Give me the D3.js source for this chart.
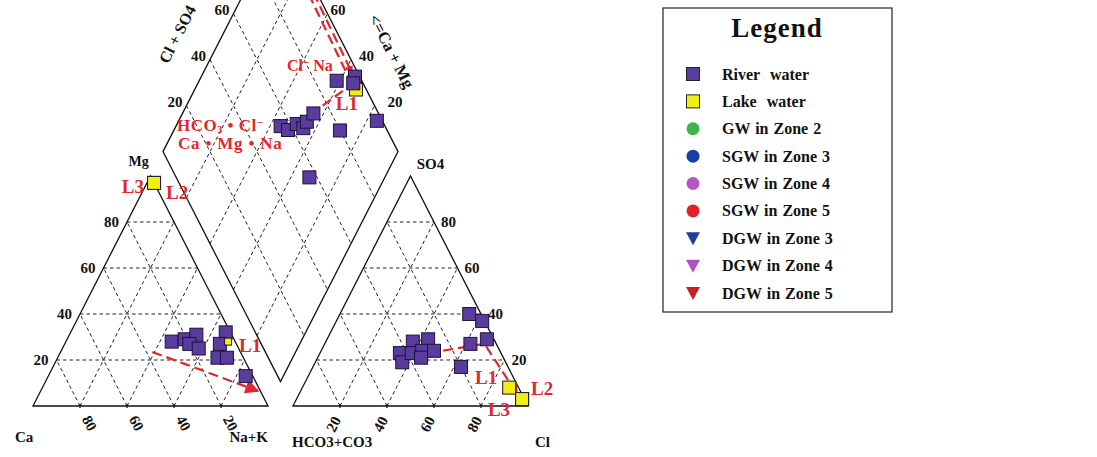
<!DOCTYPE html>
<html>
<head>
<meta charset="utf-8">
<script src="https://cdn.jsdelivr.net/npm/d3@7"></script>
<style>
  body { margin: 0; background: #fff; }
  svg { display: block; font-family: "Liberation Serif", "Times New Roman", serif; font-weight: bold; }
</style>
</head>
<body>
<svg id="chart" width="1097" height="457"></svg>
<script>
// ---------- data ----------
const ticks = [20, 40, 60, 80];
const diamondTicks = [20, 40, 60];

// River water, cation triangle: [Mg %, Na+K %]
const riverCation = [
  [28, 45], [29, 50], [31, 54], [27, 53], [25, 58],
  [32, 66], [27, 66], [21, 68], [21, 72], [13, 84]
];
// River water, anion triangle: [SO4 %, Cl %]
const riverAnion = [
  [23, 34], [19, 37], [28, 37], [23, 39], [29, 43], [24, 43], [24, 48],
  [21, 44], [40, 55], [37, 62], [29, 68], [27, 62], [17, 63]
];
// River water, diamond: [Na+K %, Cl+SO4 %]
const riverDiamond = [
  [44.5, 55.6], [48.5, 57.9], [50.9, 62.9], [54.6, 64.8], [54.7, 67.7],
  [55.7, 72.3], [58.5, 89.3], [65.4, 98.0], [66.1, 95.8], [70.7, 79.9],
  [84.3, 97.7], [67.9, 56.7]
];

// Lake water samples
const lakeNames = ["L1", "L2", "L3"];
const lakeCation = [[28, 69], [97, 3], [97, 3]];        // [Mg, Na+K]
const lakeAnion = [[8, 88], [3, 96], [3, 96]];          // [SO4, Cl]
const lakeDiamond = [[68.6, 95.6], [1, 99.5], [5, 97]]; // [Na+K, Cl+SO4]

// Evolution paths
const cationTrend = [[23.5, 39], [6.5, 92.5]];              // [Mg, Na+K]
const anionTrend = [[21, 34.5], [27, 68], [5, 93]];         // [SO4, Cl]
const diamondTrend = [[48.2, 56.7], [64.4, 92.1]];          // [Na+K, Cl+SO4]
const diamondMixing = [
  [[1, 99.5], [63.5, 97.5]],
  [[5, 97], [66.5, 95]]
];

// Legend entries
const legendLabels = [
  "River  water", "Lake  water", "GW in Zone 2", "SGW in Zone 3", "SGW in Zone 4",
  "SGW in Zone 5", "DGW in Zone 3", "DGW in Zone 4", "DGW in Zone 5"
];
const legendShapes = ["square", "square", "circle", "circle", "circle", "circle", "tri", "tri", "tri"];

// ---------- styles ----------
const RIVER = "#5a3c9e", LAKE = "#f2ee12", RED = "#e3262d";
const legendColors = ["#5a3c9e", "#f2ee12", "#3db54a", "#1743a0", "#b455c4", "#e3202a", "#1c3f99", "#b04fc7", "#cc1c24"];

// ---------- geometry ----------
const GAP = 10.6; // gap between triangles, % of side
const X = d3.scaleLinear().domain([0, 210.6]).range([33, 528]);
const Y = d3.scaleLinear().domain([0, 100]).range([406, 176]);

const cat = (mg, nak) => [X(nak + mg / 2), Y(mg)];
const an = (so4, cl) => [X(100 + GAP + cl + so4 / 2), Y(so4)];
const dia = (nak, a) => { const u = 100 - nak; return [X(100 + GAP / 2 + (a - u) / 2), Y(GAP + u + a)]; };

const svg = d3.select("#chart");
const line = d3.line();

const defs = svg.append("defs");
function arrow(id, w, h) {
  defs.append("marker").attr("id", id)
    .attr("viewBox", "0 0 10 10").attr("refX", 9).attr("refY", 5)
    .attr("markerUnits", "userSpaceOnUse").attr("markerWidth", w).attr("markerHeight", h)
    .attr("orient", "auto")
    .append("path").attr("d", "M0,0L10,5L0,10Z").attr("fill", RED);
}
arrow("arrowBig", 18, 14);
arrow("arrowMid", 14, 12);
arrow("arrowSmall", 9, 8);

const gridG = svg.append("g").attr("fill", "none").attr("stroke", "#222")
  .attr("stroke-width", 1).attr("stroke-dasharray", "3.5,3");

// dashed grids of the two triangles and the diamond
ticks.forEach(t => {
  gridG.append("path").attr("d", line([cat(t, 0), cat(t, 100 - t)]));
  gridG.append("path").attr("d", line([cat(0, t), cat(100 - t, t)]));
  gridG.append("path").attr("d", line([cat(0, 100 - t), cat(100 - t, 0)]));
  gridG.append("path").attr("d", line([an(t, 0), an(t, 100 - t)]));
  gridG.append("path").attr("d", line([an(0, t), an(100 - t, t)]));
  gridG.append("path").attr("d", line([an(0, 100 - t), an(100 - t, 0)]));
  gridG.append("path").attr("d", line([dia(t, 0), dia(t, 100)]));
  gridG.append("path").attr("d", line([dia(0, t), dia(100, t)]));
});

// outlines
const outG = svg.append("g").attr("fill", "none").attr("stroke", "#111").attr("stroke-width", 1.3);
outG.append("path").attr("d", line([cat(0, 0), cat(0, 100), cat(100, 0)]) + "Z");
outG.append("path").attr("d", line([an(0, 0), an(0, 100), an(100, 0)]) + "Z");
outG.append("path").attr("d", line([dia(100, 0), dia(0, 0), dia(0, 100), dia(100, 100)]) + "Z");

// base ticks
const tickG = svg.append("g").attr("stroke", "#111").attr("stroke-width", 1.2);
ticks.forEach(t => {
  [cat(0, t), an(0, t)].forEach(p => {
    tickG.append("line").attr("x1", p[0]).attr("x2", p[0]).attr("y1", p[1] - 2).attr("y2", p[1] + 2);
  });
});

// ---------- axis labels ----------
const txt = svg.append("g").attr("fill", "#111");
function label(x, y, s, size, anchor, rot, color) {
  const t = txt.append("text")
    .attr("transform", `translate(${x},${y})` + (rot ? ` rotate(${rot})` : ""))
    .attr("font-size", size).attr("text-anchor", anchor || "start").text(s);
  if (color) t.attr("fill", color);
  return t;
}

ticks.forEach(t => {
  const p = cat(t, 0);
  label(p[0] - 8, p[1] + 5, t, 15, "end");
  const q = cat(0, t);
  label(q[0] + 8, q[1] + 18, 100 - t, 15, "middle", 62).attr("dominant-baseline", "middle");
  const r = an(t, 100 - t);
  label(r[0] + 7, r[1] + 5, t, 15, "start");
  const s = an(0, t);
  label(s[0] - 5, s[1] + 19, t, 15, "middle", -62).attr("dominant-baseline", "middle");
});
diamondTicks.forEach(t => {
  const dl = dia(0, t);
  label(dl[0] - 4, dl[1] + 1, t, 15, "end");
  const dr = dia(100 - t, 100);
  label(dr[0] + 3 + (60 - t) * 0.25, dr[1] + 1, t, 15, "start");
});

label(cat(100, 0)[0] - 12, cat(100, 0)[1] - 10, "Mg", 14, "middle");
label(15, 442, "Ca", 15, "start");
label(268, 442, "Na+K", 15, "end");
label(an(100, 0)[0] + 20, an(100, 0)[1] - 7, "SO4", 15, "middle");
label(292, 447, "HCO3+CO3", 15, "start");
label(550, 447, "Cl", 15, "end");
label(179, 35, "Cl + SO4", 16, "middle", -63).attr("dominant-baseline", "middle");
label(390, 52, "<=Ca + Mg", 16.5, "middle", 63).attr("dominant-baseline", "middle");

// ---------- evolution paths ----------
const redG = svg.append("g").attr("fill", "none").attr("stroke", RED)
  .attr("stroke-width", 2.2).attr("stroke-dasharray", "10,5");
redG.append("path").attr("d", line(cationTrend.map(d => cat(d[0], d[1])))).attr("marker-end", "url(#arrowBig)");
redG.append("path").attr("d", line(anionTrend.map(d => an(d[0], d[1])))).attr("marker-end", "url(#arrowMid)");
redG.append("path").attr("d", line(diamondTrend.map(d => dia(d[0], d[1]))));
diamondMixing.forEach(seg => {
  redG.append("path").attr("d", line(seg.map(d => dia(d[0], d[1])))).attr("marker-end", "url(#arrowSmall)");
});

// ---------- samples ----------
function squares(points, fill, size) {
  svg.append("g").selectAll("rect").data(points).join("rect")
    .attr("x", d => d[0] - size / 2).attr("y", d => d[1] - size / 2)
    .attr("width", size).attr("height", size)
    .attr("fill", fill).attr("stroke", "#1e1238").attr("stroke-width", 1);
}
// lake water drawn below river water
squares(lakeDiamond.map(d => dia(d[0], d[1])), LAKE, 13);
squares(lakeAnion.map(d => an(d[0], d[1])), LAKE, 13);
squares(lakeCation.slice(1).map(d => cat(d[0], d[1])), LAKE, 13);
squares(riverCation.map(d => cat(d[0], d[1])), RIVER, 13);
squares(riverAnion.map(d => an(d[0], d[1])), RIVER, 13);
squares(riverDiamond.map(d => dia(d[0], d[1])), RIVER, 13);
squares(lakeCation.slice(0, 1).map(d => cat(d[0], d[1])), LAKE, 7);

// ---------- annotations ----------
const aPos = cat(lakeCation[1][0], lakeCation[1][1]);
label(aPos[0] - 10, aPos[1] + 10, lakeNames[2], 19, "end", 0, RED);
label(aPos[0] + 12, aPos[1] + 16, lakeNames[1], 19, "start", 0, RED);
const c1 = cat(lakeCation[0][0], lakeCation[0][1]);
label(c1[0] + 11, c1[1] + 10, lakeNames[0], 19, "start", 0, RED);
const a1 = an(lakeAnion[0][0], lakeAnion[0][1]);
label(a1[0] - 12, a1[1] - 4, lakeNames[0], 19, "end", 0, RED);
const a2 = an(lakeAnion[1][0], lakeAnion[1][1]);
label(a2[0] + 9, a2[1] - 4, lakeNames[1], 19, "start", 0, RED);
label(a2[0] - 12, a2[1] + 17, lakeNames[2], 19, "end", 0, RED);
const d1 = dia(lakeDiamond[0][0], lakeDiamond[0][1]);
label(d1[0] - 9, d1[1] + 20, lakeNames[0], 19, "middle", 0, RED);

const t1 = label(287, 71, "", 16, "start", 0, RED);
t1.append("tspan").text("Cl");
t1.append("tspan").attr("dy", -5).attr("font-size", 11).text("−");
t1.append("tspan").attr("dy", 5).text(" Na");
const t2 = label(177, 131, "", 17, "start", 0, RED).attr("letter-spacing", 0.5);
t2.append("tspan").text("HCO");
t2.append("tspan").attr("dy", 1.5).attr("font-size", 10).text("3");
t2.append("tspan").attr("dy", -1.5).text(" • Cl");
t2.append("tspan").attr("dy", -5).attr("font-size", 11).text("−");
label(178, 149, "Ca • Mg • Na", 17, "start", 0, RED).attr("letter-spacing", 0.8);

// ---------- legend ----------
const lg = svg.append("g");
lg.append("rect").attr("x", 663).attr("y", 8).attr("width", 229).attr("height", 304)
  .attr("fill", "#fff").attr("stroke", "#333").attr("stroke-width", 1.3);
lg.append("text").attr("x", 777).attr("y", 37).attr("text-anchor", "middle")
  .attr("font-size", 27).attr("letter-spacing", 1).attr("fill", "#111").text("Legend");
const rowY = d3.scaleLinear().domain([0, 8]).range([74, 293]);
legendLabels.forEach((s, i) => {
  const y = rowY(i), x = 693, col = legendColors[i];
  if (legendShapes[i] === "square") {
    lg.append("rect").attr("x", x - 6.5).attr("y", y - 6.5).attr("width", 13).attr("height", 13)
      .attr("fill", col).attr("stroke", "#222").attr("stroke-width", 1);
  } else if (legendShapes[i] === "circle") {
    lg.append("circle").attr("cx", x).attr("cy", y).attr("r", 6.5).attr("fill", col);
  } else {
    lg.append("path").attr("d", `M${x - 7},${y - 6}L${x + 7},${y - 6}L${x},${y + 7}Z`).attr("fill", col);
  }
  lg.append("text").attr("x", 722).attr("y", y + 5.5).attr("font-size", 16)
    .style("white-space", "pre")
    .attr("word-spacing", 1).attr("fill", "#111").text(s);
});
</script>
</body>
</html>
